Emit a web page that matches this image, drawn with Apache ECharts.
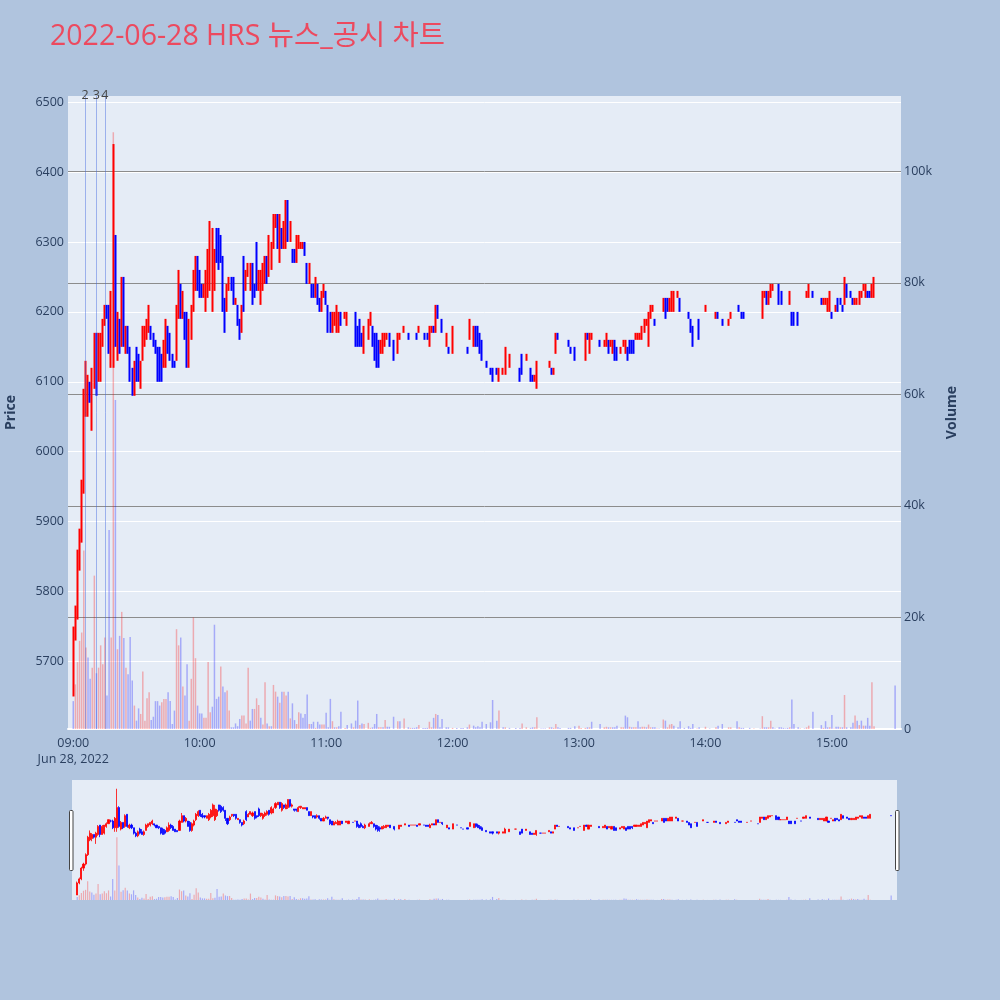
<!DOCTYPE html>
<html><head><meta charset="utf-8">
<script src="https://cdn.jsdelivr.net/npm/echarts@6/dist/echarts.min.js"></script>
<style>html,body{margin:0;padding:0;background:#b0c4de}#c{width:1000px;height:1000px}</style>
</head><body><div id="c"></div><script>
// ---------- data ----------
const times = [
'09:00','09:01','09:02','09:03','09:04','09:05','09:06','09:07','09:08','09:09',
'09:10','09:11','09:12','09:13','09:14','09:15','09:16','09:17','09:18','09:19',
'09:20','09:21','09:22','09:23','09:24','09:25','09:26','09:27','09:28','09:29',
'09:30','09:31','09:32','09:33','09:34','09:35','09:36','09:37','09:38','09:39',
'09:40','09:41','09:42','09:43','09:44','09:45','09:46','09:47','09:48','09:49',
'09:50','09:51','09:52','09:53','09:54','09:55','09:56','09:57','09:58','09:59',
'10:00','10:01','10:02','10:03','10:04','10:05','10:06','10:07','10:08','10:09',
'10:10','10:11','10:12','10:13','10:14','10:15','10:16','10:17','10:18','10:19',
'10:20','10:21','10:22','10:23','10:24','10:25','10:26','10:27','10:28','10:29',
'10:30','10:31','10:32','10:33','10:34','10:35','10:36','10:37','10:38','10:39',
'10:40','10:41','10:42','10:43','10:44','10:45','10:46','10:47','10:48','10:49',
'10:50','10:51','10:52','10:53','10:54','10:55','10:56','10:57','10:58','10:59',
'11:00','11:01','11:02','11:03','11:04','11:05','11:06','11:07','11:09','11:10',
'11:12','11:13','11:14','11:15','11:16','11:17','11:18','11:20','11:21','11:22',
'11:23','11:24','11:25','11:26','11:27','11:28','11:29','11:30','11:32','11:34',
'11:35','11:37','11:39','11:40','11:41','11:42','11:43','11:44','11:46','11:47',
'11:48','11:49','11:50','11:51','11:52','11:53','11:54','11:55','11:57','11:58',
'12:00','12:02','12:04','12:05','12:07','12:08','12:10','12:11','12:12','12:13',
'12:14','12:16','12:18','12:19','12:21','12:22','12:24','12:25','12:27','12:30',
'12:32','12:33','12:35','12:37','12:38','12:39','12:40','12:42','12:43','12:44',
'12:46','12:47','12:48','12:49','12:50','12:51','12:55','12:56','12:58',
'13:00','13:01','13:03','13:04','13:05','13:06','13:10','13:12','13:13','13:14',
'13:15','13:16','13:17','13:18','13:20','13:21','13:22','13:23','13:24','13:25',
'13:26','13:27','13:28','13:29','13:30','13:31','13:32','13:33','13:34','13:35',
'13:36','13:37','13:38','13:40','13:41','13:42','13:43','13:44','13:45','13:47',
'13:48','13:50','13:52','13:53','13:54','13:56','13:57',
'14:00','14:02','14:05','14:06','14:08','14:11','14:12','14:15','14:16','14:17',
'14:18','14:21','14:23','14:26','14:27','14:28','14:29','14:30','14:31','14:32',
'14:33','14:35','14:36','14:37','14:38','14:39','14:40','14:41','14:42','14:44',
'14:45','14:47','14:48','14:49','14:51','14:55','14:56','14:57','14:58','14:59',
'15:00','15:01','15:02','15:03','15:04','15:05','15:06','15:07','15:09','15:10',
'15:11','15:12','15:13','15:14','15:15','15:16','15:17','15:18','15:19','15:20',
'15:30'
];
const opens = [
5650,5740,5770,5850,5880,5950,6060,6070,6100,6080,
6100,6170,6100,6110,6160,6180,6200,6200,6150,6150,
6300,6140,6190,6160,6250,6150,6170,6150,6110,6090,
6140,6120,6100,6130,6160,6170,6180,6180,6170,6160,
6150,6140,6130,6120,6130,6170,6160,6140,6130,6130,
6190,6240,6200,6200,6190,6130,6170,6210,6240,6280,
6250,6240,6220,6210,6230,6240,6210,6240,6320,6310,
6300,6280,6220,6210,6240,6250,6250,6210,6210,6190,
6180,6270,6230,6250,6240,6270,6240,6290,6240,6220,
6240,6250,6280,6260,6260,6300,6320,6340,6280,6320,
6290,6300,6360,6310,6290,6290,6270,6300,6290,6290,
6300,6270,6240,6240,6240,6230,6240,6220,6200,6220,
6230,6210,6200,6170,6180,6170,6170,6200,6190,6180,
6190,6200,6200,6170,6180,6160,6150,6160,6180,6180,
6170,6160,6150,6140,6150,6150,6160,6170,6160,6140,
6160,6170,6170,6170,6170,6170,6170,6170,6170,6170,
6170,6150,6170,6180,6170,6210,6190,6190,6150,6150,
6140,6170,6150,6140,6150,6160,6150,6180,6170,6160,
6150,6130,6120,6120,6120,6110,6110,6110,6120,6140,
6120,6140,6130,6120,6110,6100,6100,6110,6110,6110,
6120,6120,6110,6140,6170,6160,6160,6150,6150,
6150,6160,6130,6170,6140,6160,6160,6150,6150,6160,
6150,6140,6160,6150,6140,6150,6140,6150,6160,6160,
6160,6160,6160,6160,6160,6170,6180,6150,6190,6200,
6190,6200,6200,6200,6220,6220,6200,6200,6200,6220,
6220,6200,6200,6190,6180,6190,6190,
6200,6190,6190,6200,6190,6180,6190,6190,6210,6200,
6200,6190,6200,6180,6190,6220,6230,6210,6220,6230,
6240,6240,6230,6210,6210,6210,6210,6200,6200,6200,
6220,6200,6220,6220,6230,6220,6210,6210,6200,6200,
6200,6220,6200,6220,6220,6210,6210,6240,6230,6220,
6210,6210,6210,6220,6230,6220,6230,6230,6220,6220,
6240
];
const highs = [
5750,5780,5860,5890,5960,6090,6130,6110,6100,6120,
6170,6170,6170,6170,6190,6210,6210,6210,6230,6440,
6310,6200,6190,6250,6250,6180,6180,6150,6120,6130,
6150,6140,6130,6180,6180,6190,6210,6180,6170,6160,
6150,6150,6140,6160,6190,6180,6170,6140,6130,6210,
6260,6240,6230,6200,6200,6190,6210,6260,6280,6280,
6260,6240,6240,6260,6290,6330,6320,6290,6320,6320,
6310,6280,6220,6240,6250,6250,6250,6220,6210,6190,
6210,6280,6260,6270,6270,6270,6240,6300,6260,6260,
6270,6280,6280,6310,6300,6340,6340,6340,6340,6320,
6330,6360,6360,6330,6290,6290,6310,6310,6300,6300,
6300,6270,6270,6240,6240,6250,6240,6220,6230,6240,
6230,6210,6200,6200,6200,6210,6200,6200,6200,6200,
6190,6200,6200,6180,6190,6170,6180,6190,6200,6180,
6170,6170,6160,6160,6170,6170,6170,6170,6160,6170,
6170,6180,6170,6170,6170,6170,6170,6180,6170,6170,
6170,6180,6180,6180,6210,6210,6190,6190,6170,6150,
6180,6170,6150,6140,6150,6190,6180,6180,6180,6170,
6160,6130,6120,6120,6120,6120,6120,6150,6140,6140,
6120,6140,6140,6120,6110,6110,6130,6110,6110,6110,
6130,6120,6120,6170,6170,6160,6160,6150,6150,
6150,6160,6170,6170,6170,6170,6160,6160,6170,6160,
6160,6160,6160,6150,6150,6160,6160,6150,6160,6160,
6160,6170,6170,6170,6180,6190,6190,6200,6210,6210,
6190,6200,6200,6220,6220,6220,6220,6230,6230,6230,
6220,6200,6200,6190,6180,6190,6190,
6210,6190,6200,6200,6190,6190,6200,6190,6210,6200,
6200,6190,6200,6180,6230,6230,6230,6230,6240,6240,
6240,6240,6230,6210,6210,6210,6230,6200,6200,6200,
6220,6200,6230,6240,6230,6220,6220,6220,6220,6230,
6200,6220,6210,6220,6220,6210,6250,6240,6230,6220,
6220,6220,6230,6230,6240,6240,6230,6230,6240,6250,
6240
];
const lows = [
5650,5730,5760,5830,5870,5940,6050,6050,6070,6030,
6090,6080,6100,6100,6150,6180,6190,6140,6120,6120,
6150,6130,6140,6150,6150,6140,6140,6100,6080,6080,
6100,6100,6090,6130,6150,6160,6170,6160,6150,6140,
6100,6100,6100,6120,6120,6140,6130,6120,6120,6130,
6190,6190,6190,6160,6120,6120,6160,6200,6230,6230,
6220,6220,6220,6200,6220,6230,6200,6230,6270,6260,
6270,6200,6170,6200,6230,6230,6210,6210,6180,6160,
6170,6200,6230,6250,6230,6210,6220,6230,6230,6210,
6230,6240,6240,6250,6260,6290,6320,6290,6270,6290,
6290,6290,6300,6300,6270,6270,6270,6290,6290,6290,
6280,6240,6240,6220,6220,6220,6210,6200,6200,6220,
6210,6170,6170,6170,6180,6170,6170,6180,6190,6180,
6190,6200,6150,6150,6150,6150,6140,6160,6180,6150,
6130,6120,6120,6140,6140,6150,6160,6150,6130,6140,
6160,6170,6160,6170,6170,6170,6160,6170,6170,6160,
6160,6150,6170,6170,6170,6190,6190,6170,6150,6140,
6140,6170,6150,6140,6140,6160,6150,6150,6150,6140,
6130,6120,6110,6100,6110,6100,6110,6110,6120,6140,
6100,6110,6130,6100,6100,6100,6090,6110,6110,6110,
6120,6110,6110,6140,6160,6160,6150,6140,6130,
6150,6160,6130,6160,6140,6160,6150,6150,6150,6140,
6150,6140,6130,6130,6140,6150,6140,6130,6140,6140,
6140,6160,6160,6160,6160,6170,6180,6150,6190,6200,
6180,6200,6200,6200,6190,6200,6200,6200,6200,6220,
6200,6200,6190,6170,6150,6190,6160,
6200,6190,6190,6190,6180,6180,6190,6190,6200,6190,
6190,6190,6200,6180,6190,6220,6210,6210,6220,6230,
6240,6210,6210,6210,6210,6210,6210,6180,6180,6180,
6220,6200,6220,6220,6220,6210,6210,6210,6200,6200,
6190,6220,6200,6200,6210,6200,6210,6220,6220,6210,
6210,6210,6210,6220,6230,6220,6220,6220,6220,6220,
6240
];
const closes = [
5740,5770,5850,5880,5950,6080,6110,6100,6080,6110,
6160,6100,6160,6170,6180,6210,6200,6150,6220,6300,
6160,6190,6150,6240,6160,6170,6150,6110,6090,6120,
6110,6100,6120,6170,6180,6190,6200,6170,6150,6150,
6110,6100,6110,6150,6170,6150,6130,6120,6120,6200,
6240,6200,6220,6160,6130,6180,6200,6250,6270,6240,
6230,6230,6240,6250,6280,6320,6290,6280,6280,6270,
6280,6220,6180,6230,6250,6240,6220,6220,6190,6170,
6200,6210,6250,6270,6260,6220,6230,6240,6260,6250,
6260,6270,6250,6300,6290,6330,6340,6300,6330,6300,
6320,6360,6310,6320,6280,6280,6300,6310,6300,6300,
6280,6240,6270,6230,6220,6240,6220,6200,6220,6230,
6220,6180,6170,6190,6190,6200,6200,6180,6200,6200,
6190,6200,6160,6150,6160,6150,6170,6180,6190,6160,
6140,6130,6140,6160,6160,6170,6170,6150,6140,6170,
6170,6180,6160,6170,6170,6170,6160,6180,6170,6160,
6160,6170,6180,6170,6210,6190,6190,6180,6170,6140,
6180,6170,6150,6140,6140,6190,6180,6160,6150,6140,
6130,6120,6110,6110,6110,6120,6120,6140,6140,6140,
6100,6110,6140,6100,6100,6110,6130,6110,6110,6110,
6130,6110,6120,6170,6160,6160,6150,6140,6130,
6150,6160,6170,6160,6170,6170,6150,6160,6170,6140,
6160,6160,6130,6130,6150,6160,6160,6130,6140,6140,
6150,6170,6170,6170,6180,6190,6190,6200,6210,6210,
6180,6200,6200,6220,6190,6200,6220,6230,6230,6230,
6200,6200,6190,6170,6150,6190,6160,
6210,6190,6200,6190,6180,6190,6200,6190,6200,6190,
6190,6190,6200,6180,6230,6230,6210,6230,6240,6240,
6240,6210,6210,6210,6210,6210,6230,6180,6180,6180,
6220,6200,6230,6240,6220,6210,6220,6220,6220,6230,
6190,6220,6210,6200,6210,6200,6250,6220,6220,6210,
6220,6220,6230,6230,6240,6240,6220,6220,6240,6250,
6240
];
const volumes = [
5000,8000,12000,15800,17300,32000,14600,12800,9000,11000,
27500,10000,11000,15000,11600,16400,6000,35700,16400,107000,
59000,14300,16700,21000,16300,11000,9800,16500,8700,4200,
1500,3700,2700,10300,1500,5500,6600,1600,2200,5000,
5000,4200,4800,5400,5400,6600,5000,900,3300,17900,
15000,16400,7600,6000,11600,1500,9000,20000,12700,4200,
2800,2800,2000,2000,12000,3000,4000,18700,5400,5800,
11200,7600,6600,6900,3300,300,300,1000,500,1800,
2400,2400,1000,11000,1500,3600,3600,5500,4300,2000,
800,8400,1000,500,500,7900,6700,5800,4700,6700,
6700,6000,6700,1900,4600,1600,900,3000,2800,2000,
2700,6200,900,900,1300,200,1300,800,800,800,
2900,300,5400,1400,300,300,500,3100,200,700,
1000,300,1500,5100,700,1000,900,1100,200,300,
900,2700,300,300,300,1600,400,400,2200,1400,
1400,1900,300,200,200,200,300,700,200,200,
200,1300,300,2000,2700,2500,300,1800,300,300,
200,200,200,200,300,800,600,300,500,300,
1300,900,1200,5200,1500,3300,300,300,200,200,
200,1000,300,200,300,300,2100,100,100,100,
300,300,200,900,300,200,200,200,500,
600,200,200,300,300,1300,900,300,400,300,
300,300,300,600,300,300,2400,2100,400,300,
300,300,1400,300,400,400,300,800,300,300,
300,100,100,1700,1500,300,800,900,600,300,
1400,200,500,200,900,100,300,
400,100,300,600,900,300,300,1400,300,200,
200,200,100,100,2300,300,300,300,1500,300,
100,300,300,200,100,200,300,5300,900,300,
100,100,300,600,3100,700,200,1400,300,300,
2500,100,400,400,300,300,6100,300,300,1100,
2400,1500,700,1500,600,600,2000,600,8400,500,
7800
];
const newsTimes = ['09:05:33', '09:10:54', '09:15:00'];
const newsLabels = ['2', '3', '4'];
const xTickLabels = ['09:00', '10:00', '11:00', '12:00', '13:00', '14:00', '15:00'];
const dateLabel = 'Jun 28, 2022';
const priceTicks = [5700, 5800, 5900, 6000, 6100, 6200, 6300, 6400, 6500];
const volumeTicks = [0, 20000, 40000, 60000, 80000, 100000];
const volumeTickLabels = ['0', '20k', '40k', '60k', '80k', '100k'];
const titleText = '2022-06-28 HRS 뉴스_공시 차트';

// ---------- build ----------
[opens, highs, lows, closes, volumes].forEach((a, k) => {
  if (a.length !== times.length) throw new Error('length mismatch in array ' + k + ': ' + a.length + ' vs ' + times.length);
});
const toMin = t => { const p = t.split(':').map(Number); return (p[0] - 9) * 60 + p[1] + (p[2] || 0) / 60; };
const xs = times.map(toMin);
const xTickVals = xTickLabels.map(toMin);
const UP = '#ff0000', DOWN = '#0000ff';
const UPV = 'rgba(255,0,0,0.28)', DOWNV = 'rgba(0,0,255,0.28)';
const candleData = times.map((t, i) => [xs[i], opens[i], closes[i], lows[i], highs[i]]);
const volData = times.map((t, i) => ({
  value: [xs[i], volumes[i]],
  itemStyle: { color: (i > 0 && closes[i] > closes[i - 1]) ? UPV : DOWNV }
}));
const FONT = '"Open Sans", "Noto Sans CJK KR", sans-serif';
const TXT = '#2a3f5f';
const XMIN = -2.5, XMAX = 392.8;

const chart = echarts.init(document.getElementById('c'), null, { renderer: 'canvas' });
chart.setOption({
  animation: false,
  backgroundColor: '#b0c4de',
  textStyle: { fontFamily: FONT },
  title: {
    text: titleText, left: 50, top: 23, padding: 0,
    textStyle: { fontSize: 28.5, fontWeight: 'normal', color: '#ec4a5f', fontFamily: FONT }
  },
  grid: [
    { left: 68, top: 96, width: 833, height: 633, show: true, backgroundColor: '#e5ecf6', borderWidth: 0, outerBoundsMode: 'none' },
    { left: 72, top: 780, width: 825, height: 120, show: true, backgroundColor: '#e5ecf6', borderWidth: 0, outerBoundsMode: 'none' }
  ],
  xAxis: [
    {
      type: 'value', gridIndex: 0, min: XMIN, max: XMAX,
      splitLine: { show: false },
      axisLine: { show: true, onZero: false, lineStyle: { color: '#ffffff', width: 2 } },
      axisTick: { show: false, customValues: xTickVals },
      axisLabel: {
        customValues: xTickVals, margin: 6, color: TXT, fontSize: 12.5, lineHeight: 16, fontFamily: FONT,
        formatter: v => {
          const i = xTickVals.findIndex(t => Math.abs(t - v) < 0.01);
          if (i < 0) return '';
          return i === 0 ? xTickLabels[i] + '\n' + dateLabel : xTickLabels[i];
        }
      }
    },
    {
      type: 'value', gridIndex: 1, min: XMIN, max: XMAX,
      show: false, splitLine: { show: false }
    }
  ],
  yAxis: [
    {
      type: 'value', gridIndex: 0, position: 'left', min: 5603.5, max: 6508.7,
      name: 'Price', nameLocation: 'middle', nameGap: 50, nameRotate: 90,
      nameTextStyle: { color: TXT, fontSize: 14, fontWeight: 'bold', fontFamily: FONT },
      axisLine: { show: false },
      axisTick: { show: false, customValues: priceTicks },
      axisLabel: {
        customValues: priceTicks, color: TXT, fontSize: 12.5, margin: 4, fontFamily: FONT,
        formatter: v => String(Math.round(v))
      },
      splitLine: { show: true, lineStyle: { color: '#ffffff', width: 1 } }
    },
    {
      type: 'value', gridIndex: 0, position: 'right', min: 0, max: 113500,
      name: 'Volume', nameLocation: 'middle', nameGap: 44, nameRotate: 90,
      nameTextStyle: { color: TXT, fontSize: 14, fontWeight: 'bold', fontFamily: FONT },
      axisLine: { show: false },
      axisTick: { show: false, customValues: volumeTicks.slice(1) },
      axisLabel: {
        customValues: volumeTicks, color: TXT, fontSize: 12.5, margin: 3, fontFamily: FONT,
        formatter: v => { const i = volumeTicks.indexOf(v); return i < 0 ? '' : volumeTickLabels[i]; }
      },
      splitLine: { show: true, lineStyle: { color: '#8c8c8c', width: 1 } }
    },
    { type: 'value', gridIndex: 1, min: 5613, max: 6505, show: false, splitLine: { show: false } },
    { type: 'value', gridIndex: 1, min: 0, max: 205000, show: false, splitLine: { show: false } }
  ],
  series: [
    {
      type: 'candlestick', xAxisIndex: 0, yAxisIndex: 0,
      data: candleData, encode: { x: 0, y: [1, 2, 3, 4] },
      barWidth: 1,
      itemStyle: { color: UP, color0: DOWN, borderColor: UP, borderColor0: DOWN, borderWidth: 2 },
      markLine: {
        silent: true, symbol: ['none', 'none'], animation: false,
        lineStyle: { color: 'rgba(65,105,225,0.45)', width: 1, type: 'solid' },
        label: { show: true, position: 'end', formatter: '{b}', color: '#444', fontSize: 12.5, distance: -6, fontFamily: FONT },
        emphasis: { disabled: true },
        data: newsTimes.map((t, i) => ({ xAxis: toMin(t), name: newsLabels[i] }))
      }
    },
    {
      type: 'bar', xAxisIndex: 0, yAxisIndex: 1,
      data: volData, barWidth: 1.5, encode: { x: 0, y: 1 }
    },
    {
      type: 'candlestick', xAxisIndex: 1, yAxisIndex: 2,
      data: candleData, encode: { x: 0, y: [1, 2, 3, 4] },
      barWidth: 1.6,
      itemStyle: { color: UP, color0: DOWN, borderColor: UP, borderColor0: DOWN, borderColorDoji: null, borderWidth: 0.8 }
    },
    {
      type: 'bar', xAxisIndex: 1, yAxisIndex: 3,
      data: volData, barWidth: 1.2, encode: { x: 0, y: 1 }
    }
  ],
  graphic: [
    { type: 'rect', shape: { x: 69.5, y: 810.5, width: 3.5, height: 60, r: 1 }, style: { fill: '#ffffff', stroke: '#444', lineWidth: 1 } },
    { type: 'rect', shape: { x: 895.5, y: 810.5, width: 3.5, height: 60, r: 1 }, style: { fill: '#ffffff', stroke: '#444', lineWidth: 1 } }
  ]
});
</script></body></html>
